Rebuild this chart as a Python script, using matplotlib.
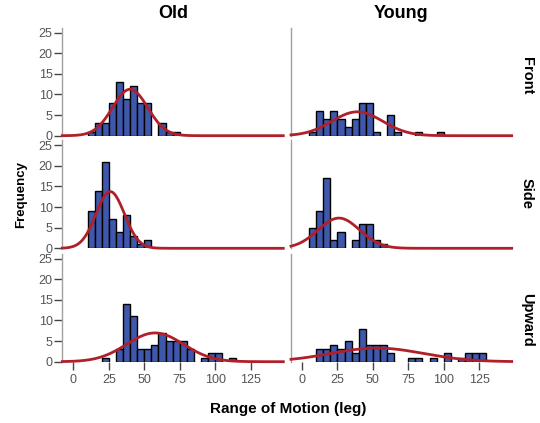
import numpy as np
import matplotlib
matplotlib.use("Agg")
import matplotlib.pyplot as plt

plt.rcParams['font.family'] = ['Liberation Sans', 'DejaVu Sans']

# ---- data (bin width 5, counts starting at the given left edge) ----
BIN_W = 5
groups = ["Old", "Young"]
directions = ["Front", "Side", "Upward"]

old_front_start = 10
old_front_counts = [1, 3, 3, 8, 13, 9, 12, 8, 8, 0, 3, 1, 1]
young_front_start = 5
young_front_counts = [1, 6, 4, 6, 4, 2, 4, 8, 8, 1, 0, 5, 1, 0, 0, 1, 0, 0, 1]

old_side_start = 10
old_side_counts = [9, 14, 21, 7, 4, 8, 3, 1, 2]
young_side_start = 5
young_side_counts = [5, 9, 17, 2, 4, 0, 2, 6, 6, 2, 1]

old_up_start = 20
old_up_counts = [1, 0, 3, 14, 11, 3, 3, 4, 7, 5, 5, 5, 3, 0, 1, 2, 2, 0, 1]
young_up_start = 10
young_up_counts = [3, 3, 4, 3, 5, 2, 8, 4, 4, 4, 2, 0, 0, 1, 1, 0, 1, 0, 2, 0, 1, 2, 2, 2]

# normal-curve parameters (mean, sd)
old_front_fit = (40, 12.4)
young_front_fit = (39, 17.9)
old_side_fit = (26, 10.0)
young_side_fit = (26, 14.7)
old_up_fit = (57.6, 20.0)
young_up_fit = (53, 32.6)

x_ticks = [0, 25, 50, 75, 100, 125]
y_ticks = [0, 5, 10, 15, 20, 25]

panels = {
    ("Front", "Old"): (old_front_start, old_front_counts, old_front_fit),
    ("Front", "Young"): (young_front_start, young_front_counts, young_front_fit),
    ("Side", "Old"): (old_side_start, old_side_counts, old_side_fit),
    ("Side", "Young"): (young_side_start, young_side_counts, young_side_fit),
    ("Upward", "Old"): (old_up_start, old_up_counts, old_up_fit),
    ("Upward", "Young"): (young_up_start, young_up_counts, young_up_fit),
}

# ---- layout ----
W, H = 540, 423
fig = plt.figure(figsize=(W / 100, H / 100), dpi=100)
col_left = [62.3, 291.0]
col_right = [283.3, 511.7]
row_zero = [135.7, 248.3, 361.7]
row_label_y = [76, 193, 320]
panel_h = 108.0
XLIM = (-7.8, 148.0)
YLIM = (0, 26.2)

bar_color = '#3F58AC'
curve_color = '#B0202A'
tick_color = '#444444'
spine_color = '#A0A0A0'

for r, d in enumerate(directions):
    for c, g in enumerate(groups):
        left = col_left[c] / W
        width = (col_right[c] - col_left[c]) / W
        bottom = 1 - row_zero[r] / H
        ax = fig.add_axes([left, bottom, width, panel_h / H])
        start, counts, (mu, sd) = panels[(d, g)]
        counts = np.array(counts, dtype=float)
        edges = start + BIN_W * np.arange(len(counts))
        m = counts > 0
        ax.bar(edges[m], counts[m], width=BIN_W, align='edge',
               color=bar_color, edgecolor='black', linewidth=1.0, zorder=2)
        n = counts.sum()
        xs = np.linspace(XLIM[0], XLIM[1], 400)
        ys = n * BIN_W / (sd * np.sqrt(2 * np.pi)) * np.exp(-0.5 * ((xs - mu) / sd) ** 2)
        ax.plot(xs, ys, color=curve_color, linewidth=2.0, zorder=3, clip_on=False)
        ax.set_xlim(*XLIM)
        ax.set_ylim(*YLIM)
        for s in ['top', 'right', 'bottom']:
            ax.spines[s].set_visible(False)
        ax.spines['left'].set_color(spine_color)
        ax.spines['left'].set_linewidth(1.0)
        ax.set_yticks(y_ticks)
        if c == 0:
            ax.tick_params(axis='y', length=6, width=1.0, color=tick_color,
                           labelcolor='#555555', labelsize=9, pad=1)
        else:
            ax.tick_params(axis='y', length=0, labelleft=False)
        ax.set_xticks(x_ticks)
        if r == 2:
            ax.tick_params(axis='x', length=6, width=1.0, color=tick_color,
                           labelcolor='#555555', labelsize=9, pad=3)
        else:
            ax.tick_params(axis='x', length=0, labelbottom=False)
        ax.patch.set_alpha(0)
        if c == 1:
            fig.text(527 / W, 1 - row_label_y[r] / H, d,
                     rotation=-90, ha='center', va='center',
                     fontsize=10.5, fontweight='bold')

for c, g in enumerate(groups):
    fig.text((col_left[c] + col_right[c]) / 2 / W, 1 - 13 / H, g,
             ha='center', va='center', fontsize=13, fontweight='bold')

fig.text(21 / W, 1 - 194 / H, 'Frequency', rotation=90, ha='center',
         va='center', fontsize=9.5, fontweight='bold')
fig.text(288 / W, 1 - 409 / H, 'Range of Motion (leg)', ha='center',
         va='center', fontsize=11, fontweight='bold')

fig.savefig('out.png', dpi=100)
